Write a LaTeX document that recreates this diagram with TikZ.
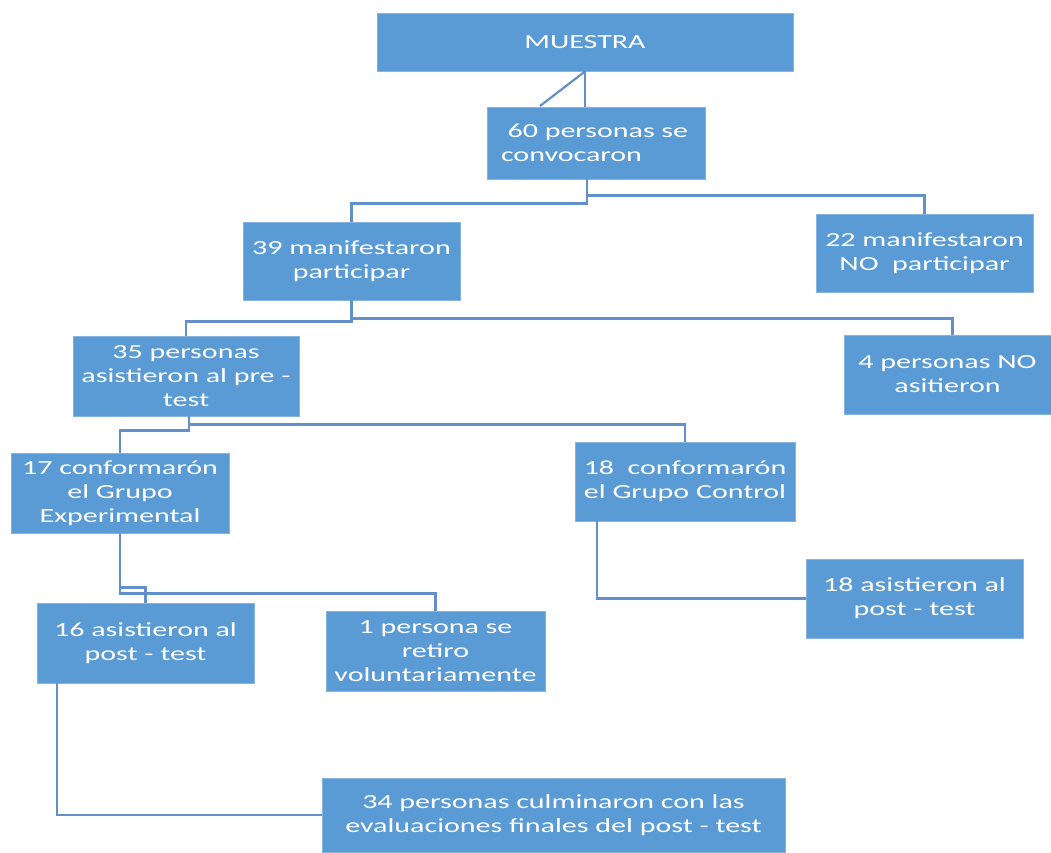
\documentclass[tikz,border=0pt]{standalone}
\usepackage{fontspec}
\setmainfont[FakeStretch=1.5]{Carlito}
\usetikzlibrary{positioning}
\definecolor{cbox}{HTML}{5B9BD5}
\definecolor{cline}{HTML}{6390CA}
\tikzset{
  box/.style={draw=cbox!75!white, fill=cbox, line width=0.8pt, text=white, align=center, inner sep=0pt, font=\fontsize{20}{24}\selectfont},
  conn/.style={draw=cline, line width=2.2pt},
}
\begin{document}
\begin{tikzpicture}[x=1pt,y=-1pt]
\useasboundingbox (0,0) rectangle (1051,852);
% boxes
\node[box, minimum width=416, minimum height=58] (muestra) at (585,42) {MUESTRA};
\node[box, align=left, text width=190, inner xsep=14pt, minimum height=72] (conv60) at (596,143) {\ 60 personas se\\convocaron};
\node[box, minimum width=217, minimum height=78] (man39) at (351.5,261) {39 manifestaron\\participar};
\node[box, minimum width=217, minimum height=78] (no22) at (924.5,253) {22 manifestaron\\NO\ \ participar};
\node[box, minimum width=226, minimum height=80] (pre35) at (186,376) {35 personas\\asistieron al pre -\\test};
\node[box, minimum width=207, minimum height=79] (no4) at (947.5,374.5) {4 personas NO\\asitieron};
\node[box, minimum width=218, minimum height=80] (exp17) at (120,493) {17 conformarón\\el Grupo\\Experimental};
\node[box, minimum width=220, minimum height=79] (ctrl18) at (685,481.5) {18\ \ conformarón\\el Grupo Control};
\node[box, minimum width=217, minimum height=79] (post18) at (914.5,598.5) {18 asistieron al\\post - test};
\node[box, minimum width=217, minimum height=80] (post16) at (145.5,643) {16 asistieron al\\post - test};
\node[box, minimum width=219, minimum height=80] (ret1) at (435.5,651) {1 persona se\\retiro\\voluntariamente};
\node[box, minimum width=463, minimum height=74] (fin34) at (553.5,815) {34 personas culminaron con las\\evaluaciones finales del post - test};
\coordinate (tick) at (540,106);
% connectors
\draw[conn] (muestra.south) -- (muestra.south |- conv60.north);
\draw[conn] (muestra.south) -- (tick);
\draw[conn] ([xshift=-9]conv60.south) -- ++(0,24) -| (man39.north);
\draw[conn] ([xshift=-9]conv60.south) -- ++(0,16) -| (no22.north);
\draw[conn] (man39.south) -- ++(0,21) -| (pre35.north);
\draw[conn] (man39.south) -- ++(0,18) -| ([xshift=5]no4.north);
\draw[conn] ([xshift=3]pre35.south) -- ++(0,8) -| (ctrl18.north);
\draw[conn] ([xshift=3]pre35.south) -- ++(0,14) -| (exp17.north);
\draw[conn] (exp17.south) -- ++(0,60) -| (ret1.north);
\draw[conn] (exp17.south) -- ++(0,54) -| (post16.north);
\draw[conn] ([xshift=22]ctrl18.south west) |- (post18.west);
\draw[conn] ([xshift=20]post16.south west) |- (fin34.west);
\end{tikzpicture}
\end{document}
